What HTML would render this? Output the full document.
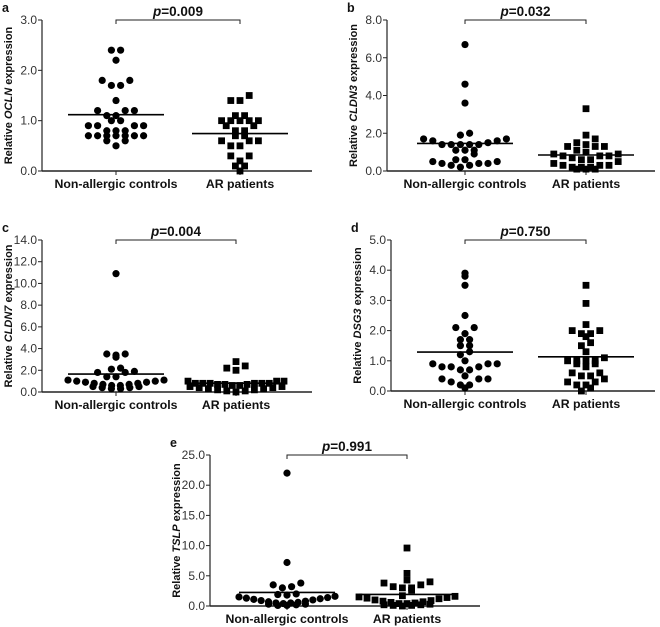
<!DOCTYPE html>
<html><head><meta charset="utf-8">
<style>
html,body{margin:0;padding:0;background:#fff;}
svg{display:block;font-family:"Liberation Sans",Arial,sans-serif;}
</style></head>
<body>
<svg id="fig" width="660" height="627" viewBox="0 0 660 627" xmlns="http://www.w3.org/2000/svg"></svg>
<script>
const categories = ["Non-allergic controls", "AR patients"];
const aCtrl = [2.4,2.4,2.2,1.8,1.8,1.7,1.7,1.4,1.2,1.2,1.2,1.1,1.1,1.0,1.0,0.9,0.9,0.9,0.9,0.8,0.8,0.8,0.7,0.7,0.7,0.7,0.7,0.7,0.7,0.6,0.6,0.5];
const aAR = [1.5,1.4,1.4,1.1,1.1,1.0,1.0,1.0,1.0,1.0,0.9,0.9,0.8,0.8,0.7,0.7,0.6,0.6,0.6,0.5,0.5,0.3,0.3,0.2,0.1,0.1,0.0];
const bCtrl = [6.7,4.6,3.6,2.0,1.9,1.7,1.7,1.6,1.6,1.5,1.4,1.4,1.4,1.4,1.4,1.1,1.1,1.1,0.9,0.6,0.6,0.5,0.5,0.4,0.4,0.4,0.3,0.3,0.2];
const bAR = [3.3,1.9,1.7,1.5,1.4,1.3,1.3,1.3,1.1,1.0,0.9,0.9,0.8,0.8,0.8,0.7,0.6,0.6,0.5,0.4,0.3,0.3,0.3,0.2,0.2,0.2,0.1,0.1,0.1];
const cCtrl = [10.9,3.5,3.5,3.4,3.2,2.2,2.1,1.9,1.8,1.8,1.4,1.4,1.1,1.1,1.0,1.0,0.9,0.9,0.8,0.8,0.7,0.7,0.6,0.6,0.5,0.5,0.4,0.4,0.3,0.3];
const cAR = [2.8,2.4,2.2,2.0,1.0,1.0,1.0,0.8,0.8,0.8,0.8,0.8,0.8,0.7,0.7,0.7,0.6,0.6,0.5,0.5,0.4,0.4,0.3,0.3,0.2,0.2,0.1,0.1,0.0];
const dCtrl = [3.9,3.8,3.5,2.5,2.1,2.1,1.9,1.7,1.7,1.5,1.5,1.3,1.2,1.0,0.9,0.9,0.9,0.8,0.8,0.8,0.7,0.7,0.5,0.4,0.4,0.4,0.3,0.2,0.2,0.1];
const dAR = [3.5,2.9,2.2,2.0,2.0,1.9,1.9,1.8,1.6,1.5,1.3,1.1,1.0,1.0,1.0,1.0,0.9,0.9,0.8,0.6,0.6,0.5,0.5,0.4,0.3,0.3,0.2,0.2,0.1,0.0];
const eCtrl = [22.0,7.2,3.8,3.5,3.2,3.0,2.0,1.9,1.8,1.6,1.5,1.4,1.3,1.2,1.1,1.0,0.9,0.8,0.7,0.6,0.5,0.4,0.3,0.2,0.1,0.1,0.3,0.5];
const eAR = [9.6,5.4,4.3,4.0,3.8,3.5,3.2,3.0,3.0,2.6,1.7,1.6,1.5,1.4,1.3,1.2,1.0,0.9,0.8,0.7,0.6,0.5,0.4,0.3,0.2,0.1,0.1,0.2,0.4,0.0];
const aTicks = ["0.0","1.0","2.0","3.0"];
const bTicks = ["0.0","2.0","4.0","6.0","8.0"];
const cTicks = ["0.0","2.0","4.0","6.0","8.0","10.0","12.0","14.0"];
const dTicks = ["0.0","1.0","2.0","3.0","4.0","5.0"];
const eTicks = ["0.0","5.0","10.0","15.0","20.0","25.0"];
const pValues = ["0.009","0.032","0.004","0.750","0.991"];
const genes = ["OCLN","CLDN3","CLDN7","DSG3","TSLP"];

const NS = "http://www.w3.org/2000/svg";
const svg = document.getElementById("fig");
function mk(tag, attrs, parent){
  const e = document.createElementNS(NS, tag);
  for (const k in attrs) e.setAttribute(k, attrs[k]);
  (parent||svg).appendChild(e);
  return e;
}

const panels = [
  {id:"a", x0:42, x1:312, yTop:20, yBot:171, c:[116,240], ctrl:aCtrl, ar:aAR, ticks:aTicks, gene:genes[0], p:pValues[0]},
  {id:"b", x0:387, x1:655, yTop:20, yBot:171, c:[465,586], ctrl:bCtrl, ar:bAR, ticks:bTicks, gene:genes[1], p:pValues[1]},
  {id:"c", x0:42, x1:312, yTop:240, yBot:392, c:[116,236], ctrl:cCtrl, ar:cAR, ticks:cTicks, gene:genes[2], p:pValues[2]},
  {id:"d", x0:391, x1:655, yTop:240, yBot:391, c:[465,586], ctrl:dCtrl, ar:dAR, ticks:dTicks, gene:genes[3], p:pValues[3]},
  {id:"e", x0:210, x1:480, yTop:455, yBot:606, c:[287,407], ctrl:eCtrl, ar:eAR, ticks:eTicks, gene:genes[4], p:pValues[4]}
];

function scatter(vals, yf, cx, d){
  const bins = {};
  vals.forEach(v=>{
    const y = yf(v);
    const key = Math.round(y/d);
    (bins[key] = bins[key]||[]).push({v:v,y:y});
  });
  const out = [];
  Object.keys(bins).forEach(k=>{
    const arr = bins[k].sort((a,b)=>a.v-b.v);
    const n = arr.length;
    const sp = n>1 ? Math.min(9.2, 96/(n-1)) : 0;
    const offs = [];
    if (n%2===1){ offs.push(0); for(let i=1;offs.length<n;i++){offs.push(-i*sp); if(offs.length<n) offs.push(i*sp);} }
    else { for(let i=0;offs.length<n;i++){offs.push(-(i+0.5)*sp); if(offs.length<n) offs.push((i+0.5)*sp);} }
    arr.forEach((p,i)=>{p.x = cx+offs[i]; out.push(p);});
  });
  return out;
}

panels.forEach(P=>{
  const g = mk("g",{});
  
  
  const max = parseFloat(P.ticks[P.ticks.length-1]);
  const yf = v => P.yBot - (v/max)*(P.yBot-P.yTop);
  const lt = mk("text",{x:P.x0-40, y:P.yTop-8, "font-size":"12.5", "font-weight":"bold", fill:"#111"}, g);
  lt.textContent = P.id;
  
  
  const ya = mk("line",{x1:P.x0, y1:P.yTop, x2:P.x0, y2:P.yBot, stroke:"#222","stroke-width":"1.2"}, g);
  
  
  const xa = mk("line",{x1:P.x0, y1:P.yBot, x2:P.x1, y2:P.yBot, stroke:"#222","stroke-width":"1.5"}, g);
  
  
  P.ticks.forEach(t=>{
    const y = yf(parseFloat(t));
    mk("line",{x1:P.x0-4,y1:y,x2:P.x0,y2:y,stroke:"#222","stroke-width":"1"},g);
    const tt = mk("text",{x:P.x0-5,y:y+4,"text-anchor":"end","font-size":"12",fill:"#333"},g);
    tt.textContent = t;
    
    
  });
  P.c.forEach((cx,i)=>{
    mk("line",{x1:cx,y1:P.yBot,x2:cx,y2:P.yBot+4,stroke:"#222","stroke-width":"1"},g);
    const ct = mk("text",{x:cx,y:P.yBot+17,"text-anchor":"middle","font-size":"12.3","font-weight":"bold",fill:"#111"},g);
    ct.textContent = categories[i];
    
    
  });
  const cy = (P.yTop+P.yBot)/2, tx = P.x0-30;
  const yt = mk("text",{x:tx,y:cy,transform:"rotate(-90 "+tx+" "+cy+")","text-anchor":"middle","font-size":"11","font-weight":"bold",fill:"#111"},g);
  
  
  const s1 = mk("tspan",{},yt); s1.textContent="Relative ";
  const s2 = mk("tspan",{"font-style":"italic"},yt); s2.textContent=P.gene;
  const s3 = mk("tspan",{},yt); s3.textContent=" expression";
  const br = mk("path",{d:"M"+P.c[0]+" "+(P.yTop+4)+" V"+P.yTop+" H"+P.c[1]+" V"+(P.yTop+4),fill:"none",stroke:"#222","stroke-width":"1"},g);
  
  
  const pt = mk("text",{x:(P.c[0]+P.c[1])/2,y:P.yTop-4,"text-anchor":"middle","font-size":"13.5","font-weight":"bold",fill:"#111"},g);
  
  
  const p1 = mk("tspan",{"font-style":"italic"},pt); p1.textContent="p";
  const p2 = mk("tspan",{},pt); p2.textContent="="+P.p;
  [P.ctrl, P.ar].forEach((vals,gi)=>{
    const cx = P.c[gi];
    const pts = scatter(vals, yf, cx, 7.5);
    pts.forEach(q=>{
      let m;
      if (gi===0){
        m = mk("circle",{cx:q.x,cy:q.y,r:3.6,fill:"#000"},g);
        
      } else {
        m = mk("rect",{x:q.x-3.4,y:q.y-3.4,width:6.8,height:6.8,fill:"#000"},g);
        
      }
      
    });
    const mean = vals.reduce((a,b)=>a+b,0)/vals.length;
    const ml = mk("line",{x1:cx-48,y1:yf(mean),x2:cx+48,y2:yf(mean),stroke:"#000","stroke-width":"1.6"},g);
    
    
  });
});
</script>
</body></html>
